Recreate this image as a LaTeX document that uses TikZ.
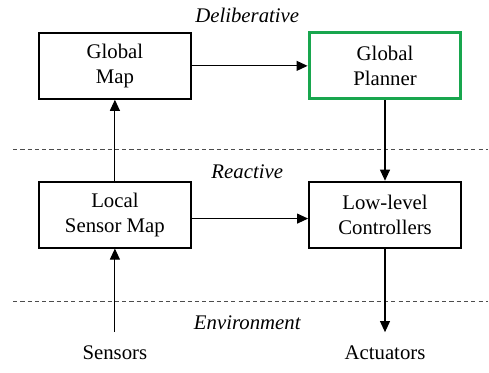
\documentclass[tikz,border=0pt]{standalone}
\usepackage{fontspec}
\newfontfamily\diagramfont{Liberation Serif}
\usetikzlibrary{positioning, arrows.meta, calc}

\definecolor{plannergreen}{RGB}{24,166,78}

\begin{document}
\begin{tikzpicture}[
    >={Triangle[length=5.3pt, width=4.8pt]},
    node distance=71.6pt and 130pt,
    on grid,
    font=\diagramfont,
    block/.style={draw, line width=0.95pt, align=center, minimum width=73.1pt, minimum height=31.7pt, inner sep=2pt},
    layer/.style={font=\diagramfont\itshape},
    ends/.style={inner sep=6.3pt},
    flow/.style={->, line width=0.5pt},
    divider/.style={dashed, dash pattern=on 2pt off 1.5pt, line width=0.5pt, black!70}
]

% -------------------------
% BLOCKS
% -------------------------
\node[block] (GlobalMap) {Global\\Map};
\node[block, draw=plannergreen, line width=1.45pt] (GlobalPlanner) [right=of GlobalMap] {Global\\Planner};
\node[block] (LocalMap) [below=of GlobalMap] {Local\\Sensor Map};
\node[block] (Controllers) [below=of GlobalPlanner] {Low-level\\Controllers};

% sensing and actuation ends
\node[ends] (Sensors) [below=66.4pt of LocalMap] {Sensors};
\node[ends] (Actuators) [below=66.4pt of Controllers] {Actuators};

% -------------------------
% LAYERS
% -------------------------
\node[layer] (Deliberative) at ($(GlobalMap)!0.49!(GlobalPlanner) + (0, 24.5pt)$) {Deliberative};
\node[layer] (Reactive) at ($(LocalMap)!0.49!(Controllers) + (0, 20.7pt)$) {Reactive};
\node[layer] (Environment) at ($(LocalMap)!0.49!(Controllers) + (0, -51.9pt)$) {Environment};

\coordinate (UpperL) at (-49pt, -40.4pt);
\coordinate (UpperR) at (179.8pt, -40.4pt);
\coordinate (LowerL) at (-49pt, -113.5pt);
\coordinate (LowerR) at (179.8pt, -113.5pt);
\draw[divider] (UpperL) -- (UpperR);
\draw[divider] (LowerL) -- (LowerR);

% -------------------------
% CONNECTIONS
% -------------------------
\draw[flow] (Sensors) -- (LocalMap);
\draw[flow] (LocalMap) -- (GlobalMap);
\draw[flow] (GlobalMap) -- (GlobalPlanner);
\draw[flow] (GlobalPlanner) -- (Controllers);
\draw[flow] ([yshift=-1.9pt]LocalMap.east) -- ([yshift=-1.9pt]Controllers.west);
\draw[flow] (Controllers) -- (Actuators);

\useasboundingbox (-55.3pt, 31.7pt) rectangle (179.8pt, -143.3pt);
\end{tikzpicture}
\end{document}
